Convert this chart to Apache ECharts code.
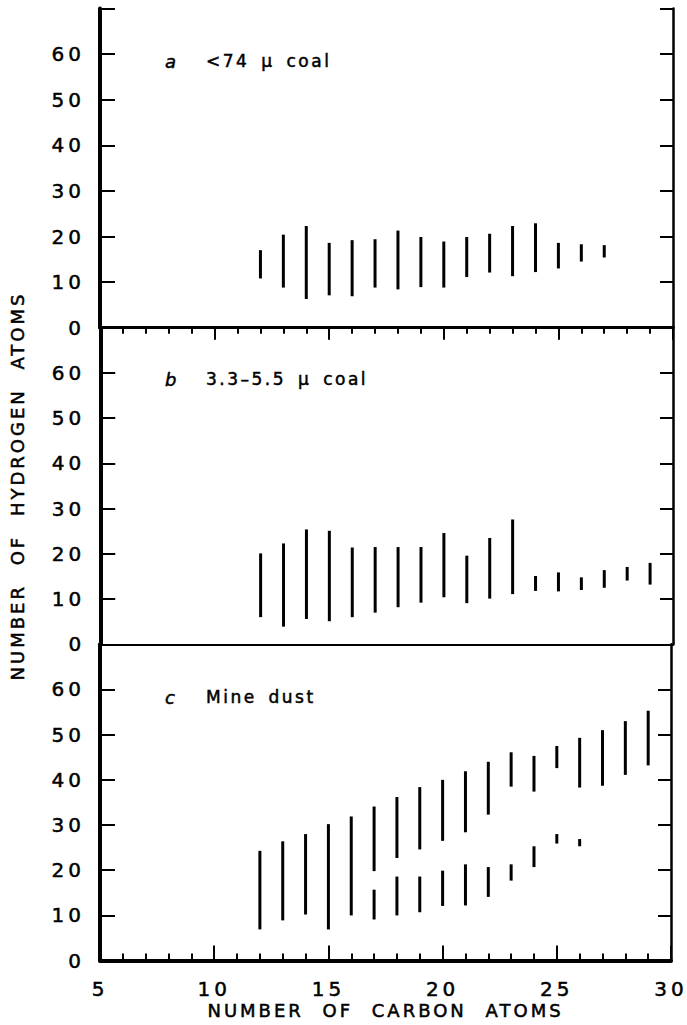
<!DOCTYPE html>
<html>
<head>
<meta charset="utf-8">
<script src="https://cdn.jsdelivr.net/npm/echarts@6/dist/echarts.min.js"></script>
<style>
  html, body { margin: 0; padding: 0; background: #fff; }
  #chart { width: 687px; height: 1025px; }
  #chart svg text { letter-spacing: 3px; word-spacing: 10px; }
</style>
</head>
<body>
<div id="chart"></div>
<script>
// Hydrogen-atom ranges (low / high) observed for each carbon number.
// Panel a: < 74 micron coal
const carbonA = [12, 13, 14, 15, 16, 17, 18, 19, 20, 21, 22, 23, 24, 25, 26, 27];
const lowA  = [10.8, 8.8, 6.3, 7.1, 6.9, 8.8, 8.4, 8.9, 8.8, 11.1, 12.1, 11.3, 12.2, 13.0, 14.5, 15.4];
const highA = [17.0, 20.4, 22.3, 18.6, 19.2, 19.4, 21.3, 19.9, 18.9, 19.9, 20.6, 22.3, 22.9, 18.6, 18.3, 18.1];

// Panel b: 3.3-5.5 micron coal
const carbonB = [12, 13, 14, 15, 16, 17, 18, 19, 20, 21, 22, 23, 24, 25, 26, 27, 28, 29];
const lowB  = [6.0, 3.9, 5.6, 5.1, 6.0, 7.0, 8.2, 9.2, 10.4, 9.1, 10.1, 11.1, 11.8, 11.7, 12.0, 12.5, 14.1, 13.2];
const highB = [20.1, 22.3, 25.4, 25.1, 21.4, 21.5, 21.5, 21.5, 24.6, 19.6, 23.5, 27.6, 15.1, 15.9, 14.8, 16.4, 17.1, 18.0];

// Panel c: mine dust, upper band
const carbonC = [12, 13, 14, 15, 16, 17, 18, 19, 20, 21, 22, 23, 24, 25, 26, 27, 28, 29];
const lowC  = [6.9, 8.9, 10.2, 6.9, 10.0, 19.8, 22.7, 24.6, 26.5, 28.4, 32.3, 38.5, 37.4, 42.6, 38.3, 38.7, 41.1, 43.2];
const highC = [24.3, 26.4, 28.0, 30.2, 31.9, 34.1, 36.2, 38.4, 40.0, 41.9, 44.0, 46.1, 45.3, 47.5, 49.3, 51.0, 53.0, 55.3];

// Panel c: mine dust, lower band
const carbonC2 = [17, 18, 19, 20, 21, 22, 23, 24, 25, 26];
const lowC2  = [9.1, 10.0, 10.7, 12.1, 12.2, 14.1, 17.7, 20.7, 25.9, 25.3];
const highC2 = [15.7, 18.6, 18.6, 19.9, 21.3, 20.7, 21.3, 25.3, 28.0, 26.9];

// Axis ticks
const carbonTicks = [5, 10, 15, 20, 25, 30];
const hydrogenTicks = [0, 10, 20, 30, 40, 50, 60];

const panelLetters = ['a', 'b', 'c'];
const panelTitles = ['<74 μ coal', '3.3–5.5 μ coal', 'Mine dust'];

const FONT = 'DejaVu Sans';
const INK = '#000';
// a thin outline in the text colour gives the lettering a heavier stroke
const HEAVY = { textBorderColor: INK, textBorderWidth: 0.5 };

const chart = echarts.init(document.getElementById('chart'), null, { renderer: 'svg' });

const grids = [
  { left: 100, right: 14, top: 8.5, height: 319.2 },
  { left: 100, right: 14, top: 327.7, height: 316.6 },
  { left: 100, right: 14, top: 644.3, height: 316.3 }
];

function rows(xs, lo, hi) {
  return xs.map((x, i) => [x, lo[i], hi[i]]);
}

function renderRange(params, api) {
  const p1 = api.coord([api.value(0), api.value(1)]);
  const p2 = api.coord([api.value(0), api.value(2)]);
  return {
    type: 'line',
    shape: { x1: p1[0], y1: p1[1], x2: p2[0], y2: p2[1] },
    style: { stroke: INK, lineWidth: 3, lineCap: 'butt' }
  };
}

const xMin = carbonTicks[0], xMax = carbonTicks[carbonTicks.length - 1];

const xAxes = [
  // panel a bottom divider
  { gridIndex: 0, type: 'value', min: xMin, max: xMax, position: 'bottom',
    axisLine: { lineStyle: { color: INK, width: 2 } },
    axisTick: { show: false }, axisLabel: { show: false }, splitLine: { show: false } },
  // panel a top frame with inward ticks
  { gridIndex: 0, type: 'value', min: xMin, max: xMax, interval: 5, position: 'top',
    axisLine: { lineStyle: { color: INK, width: 3 } },
    axisTick: { show: true, inside: true, length: 12, lineStyle: { color: INK, width: 2 } },
    minorTick: { show: true, splitNumber: 5, length: 6, lineStyle: { color: INK, width: 2 } },
    axisLabel: { show: false }, splitLine: { show: false } },
  // panel b bottom divider
  { gridIndex: 1, type: 'value', min: xMin, max: xMax, position: 'bottom',
    axisLine: { lineStyle: { color: INK, width: 2 } },
    axisTick: { show: false }, axisLabel: { show: false }, splitLine: { show: false } },
  // panel c bottom: the labelled carbon axis
  { gridIndex: 2, type: 'value', min: xMin, max: xMax, interval: 5, position: 'bottom',
    name: 'NUMBER OF CARBON ATOMS', nameLocation: 'middle', nameGap: 41,
    nameTextStyle: Object.assign({ fontFamily: FONT, fontSize: 18, color: INK }, HEAVY),
    axisLine: { lineStyle: { color: INK, width: 4 } },
    axisTick: { show: true, inside: true, length: 15, lineStyle: { color: INK, width: 2 } },
    minorTick: { show: true, splitNumber: 5, length: 7, lineStyle: { color: INK, width: 2 } },
    axisLabel: Object.assign({ show: true, margin: 18, fontFamily: FONT, fontSize: 20, color: INK,
      formatter: v => carbonTicks.includes(v) ? String(v) : '' }, HEAVY),
    splitLine: { show: false } }
];

const yAxes = [];
for (let g = 0; g < 3; g++) {
  yAxes.push({
    gridIndex: g, type: 'value', min: 0, max: 70, interval: 10, position: 'left',
    axisLine: { show: true, lineStyle: { color: INK, width: 4 } },
    axisTick: { show: true, inside: true, length: 15, lineStyle: { color: INK, width: 2 } },
    axisLabel: Object.assign({ show: true, margin: 15, fontFamily: FONT, fontSize: 20, color: INK,
      formatter: v => hydrogenTicks.includes(v) ? String(v) : '' }, HEAVY),
    splitLine: { show: false },
    name: g === 1 ? 'NUMBER OF HYDROGEN ATOMS' : '',
    nameLocation: 'middle', nameGap: 74,
    nameTextStyle: Object.assign({ fontFamily: FONT, fontSize: 18, color: INK }, HEAVY)
  });
  yAxes.push({
    gridIndex: g, type: 'value', min: 0, max: 70, interval: 10, position: 'right',
    axisLine: { show: true, lineStyle: { color: INK, width: 2.5 } },
    axisTick: { show: true, inside: true, length: 13, lineStyle: { color: INK, width: 2 } },
    axisLabel: { show: false }, splitLine: { show: false }
  });
}

const titleTops = [52, 370.5, 688.5];
const titles = [];
for (let g = 0; g < 3; g++) {
  titles.push({
    text: panelLetters[g], left: 165, top: titleTops[g], padding: 0,
    textStyle: Object.assign({ fontFamily: FONT, fontSize: 18, fontStyle: 'italic', fontWeight: 'normal', color: INK }, HEAVY)
  });
  titles.push({
    text: panelTitles[g], left: 206, top: titleTops[g], padding: 0,
    textStyle: Object.assign({ fontFamily: FONT, fontSize: 17, fontWeight: 'normal', color: INK }, HEAVY)
  });
}

const series = [
  { data: rows(carbonA, lowA, highA), xAxisIndex: 0, yAxisIndex: 0 },
  { data: rows(carbonB, lowB, highB), xAxisIndex: 2, yAxisIndex: 2 },
  { data: rows(carbonC, lowC, highC), xAxisIndex: 3, yAxisIndex: 4 },
  { data: rows(carbonC2, lowC2, highC2), xAxisIndex: 3, yAxisIndex: 4 }
].map(s => Object.assign({
  type: 'custom', coordinateSystem: 'cartesian2d', renderItem: renderRange,
  encode: { x: 0, y: [1, 2] }, silent: true
}, s));

// Panel captions use tighter word gaps; the numerals are set wide.
function adjustSpacing() {
  document.querySelectorAll('#chart svg text').forEach(t => {
    const s = t.textContent.trim();
    if (panelTitles.includes(s)) {
      t.style.wordSpacing = '4px';
      t.style.letterSpacing = '2.5px';
    } else if (/^\d+$/.test(s)) {
      t.style.letterSpacing = '4px';
    }
  });
}
chart.on('finished', adjustSpacing);

chart.setOption({
  animation: false,
  backgroundColor: '#fff',
  title: titles,
  grid: grids,
  xAxis: xAxes,
  yAxis: yAxes,
  series: series
});
adjustSpacing();
</script>
</body>
</html>
